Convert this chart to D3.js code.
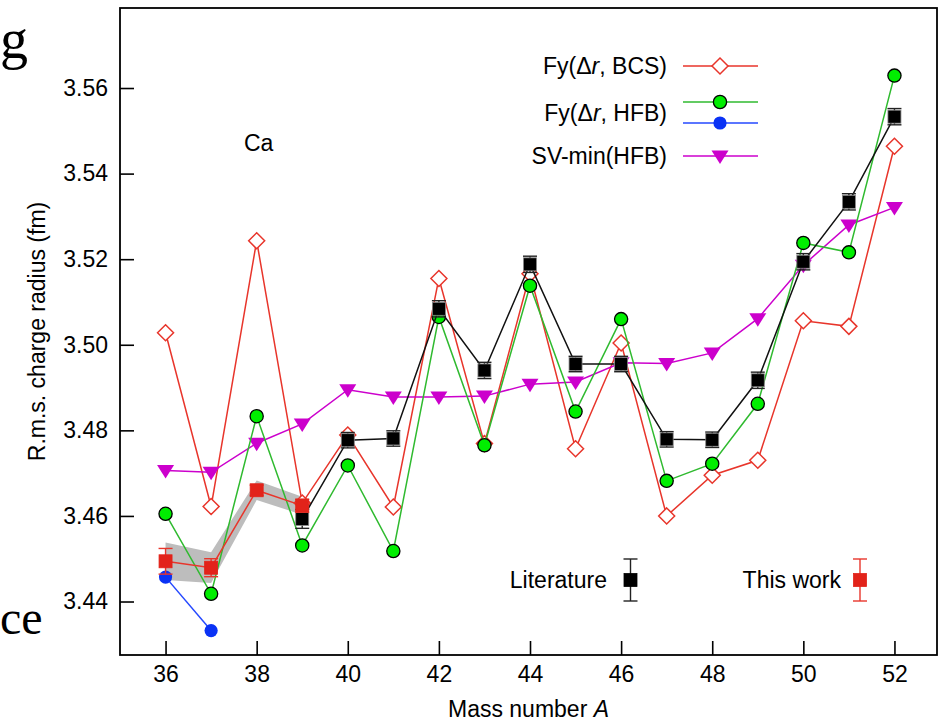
<!DOCTYPE html>
<html>
<head>
<meta charset="utf-8">
<script src="https://cdn.jsdelivr.net/npm/d3@7"></script>
<style>
  html, body { margin: 0; padding: 0; background: #fff; overflow: hidden; }
  svg { display: block; }
  text { font-family: "Liberation Sans", Arial, Helvetica, sans-serif; fill: #000; }
</style>
</head>
<body>
<svg id="chart" width="943" height="721"></svg>
<script>
// ---------------- data ----------------
const massNumbers = [36, 37, 38, 39, 40, 41, 42, 43, 44, 45, 46, 47, 48, 49, 50, 51, 52];
const fyBCS = [3.5028, 3.4622, 3.5243, 3.4630, 3.4789, 3.4621, 3.5155, 3.4769, 3.5166, 3.4757, 3.5004, 3.4600, 3.4695, 3.4730, 3.5056, 3.5043, 3.5464];
const fyHFB = [3.4605, 3.4418, 3.4833, 3.4531, 3.4718, 3.4518, 3.5065, 3.4765, 3.5138, 3.4844, 3.5060, 3.4682, 3.4722, 3.4862, 3.5238, 3.5216, 3.5629];
const fyHFBBlueA = [36, 37];
const fyHFBBlue = [3.4457, 3.4332];
const svMin = [3.4706, 3.4702, 3.4770, 3.4815, 3.4895, 3.4878, 3.4878, 3.4880, 3.4908, 3.4913, 3.4958, 3.4956, 3.4981, 3.5061, 3.5186, 3.5280, 3.5321];
const litA = [39, 40, 41, 42, 43, 44, 45, 46, 47, 48, 49, 50, 51, 52];
const literature = [3.4593, 3.4777, 3.4781, 3.5084, 3.4940, 3.5188, 3.4955, 3.4955, 3.4779, 3.4778, 3.4917, 3.5194, 3.5334, 3.5533];
const literatureErr = [0.0022, 0.0018, 0.0018, 0.0019, 0.0019, 0.0019, 0.0018, 0.0018, 0.0018, 0.0018, 0.0019, 0.0019, 0.0019, 0.0019];
const thisA = [36, 37, 38, 39];
const thisWork = [3.4494, 3.4479, 3.4660, 3.4624];
const thisWorkErr = [0.0030, 0.0021, 0.0012, 0.0015];
const bandHalfWidth = [0.0044, 0.0036, 0.0023, 0.0021];
const xTicks = [36, 38, 40, 42, 44, 46, 48, 50, 52];
const yTicks = [3.44, 3.46, 3.48, 3.50, 3.52, 3.54, 3.56];
const legendLabels = ["Fy(\u0394r, BCS)", "Fy(\u0394r, HFB)", "SV-min(HFB)"];
const bottomLegend = ["Literature", "This work"];

// ---------------- layout ----------------
const svg = d3.select("#chart");
const L = 120, R = 937, T = 8, B = 655;
const x = d3.scaleLinear().domain([35, 52.934]).range([L, R]);
const y = d3.scaleLinear().domain([3.4275, 3.5787]).range([B, T]);

const C = {
  red: "#e8352b", redFill: "#e2231a", green: "#2fba2f", greenFill: "#00ee00",
  blue: "#2448ff", blueFill: "#0a32f5", purple: "#cc00cc", band: "#bdbdbd"
};

// stray serif text fragments from surrounding page
svg.append("text").attr("x", 0).attr("y", 58)
  .style("font-family", "'Liberation Serif', 'DejaVu Serif', serif").style("font-size", "56px").text("g");
svg.append("text").attr("x", 0).attr("y", 634)
  .style("font-family", "'Liberation Serif', 'DejaVu Serif', serif").style("font-size", "48px").text("ce");

// axes
const fs = 23;
const gx = svg.append("g").attr("transform", `translate(0,${B})`)
  .call(d3.axisBottom(x).tickValues(xTicks).tickSize(-14).tickPadding(11).tickFormat(d3.format("d")));
const gy = svg.append("g").attr("transform", `translate(${L},0)`)
  .call(d3.axisLeft(y).tickValues(yTicks).tickSize(-14).tickPadding(12).tickFormat(d3.format(".2f")));
[gx, gy].forEach(g => {
  g.select(".domain").remove();
  g.selectAll(".tick line").attr("stroke", "#000").attr("stroke-width", 1.6);
  g.selectAll(".tick text").style("font-size", fs + "px").style("font-family", "'Liberation Sans', Arial, sans-serif").attr("fill", "#000");
});

// frame
svg.append("rect").attr("x", L).attr("y", T).attr("width", R - L).attr("height", B - T)
  .attr("fill", "none").attr("stroke", "#000").attr("stroke-width", 1.8);

// axis titles
const xt = svg.append("text").attr("x", (L + R) / 2).attr("y", 717).attr("text-anchor", "middle").style("font-size", fs + "px");
xt.append("tspan").text("Mass number ");
xt.append("tspan").style("font-style", "italic").text("A");
svg.append("text").attr("transform", `translate(45,${(T + B) / 2}) rotate(-90)`)
  .attr("text-anchor", "middle").style("font-size", fs + "px").text("R.m.s. charge radius (fm)");

svg.append("text").attr("x", 244).attr("y", 151).style("font-size", fs + "px").text("Ca");

// clip
svg.append("clipPath").attr("id", "plotclip").append("rect")
  .attr("x", L).attr("y", T).attr("width", R - L).attr("height", B - T);
const plot = svg.append("g").attr("clip-path", "url(#plotclip)");

// grey band
const bandData = thisA.map((a, i) => ({ a, v: thisWork[i], h: bandHalfWidth[i] }));
plot.append("path").datum(bandData)
  .attr("d", d3.area().x(d => x(d.a)).y0(d => y(d.v - d.h)).y1(d => y(d.v + d.h)))
  .attr("fill", C.band);

const line = d3.line().x(d => x(d.a)).y(d => y(d.v));
const pairs = (A, V) => A.map((a, i) => ({ a, v: V[i] }));

const bcsD = pairs(massNumbers, fyBCS);
const hfbD = pairs(massNumbers, fyHFB);
const blueD = pairs(fyHFBBlueA, fyHFBBlue);
const svD = pairs(massNumbers, svMin);
const litD = litA.map((a, i) => ({ a, v: literature[i], e: literatureErr[i] }));
const twD = thisA.map((a, i) => ({ a, v: thisWork[i], e: thisWorkErr[i] }));

// marker helpers
function diamond(g, cx, cy) {
  g.append("path").attr("d", `M${cx},${cy - 8}L${cx + 8},${cy}L${cx},${cy + 8}L${cx - 8},${cy}Z`)
    .attr("fill", "#fff").attr("stroke", C.red).attr("stroke-width", 1.5);
}
function circle(g, cx, cy, fill, stroke) {
  g.append("circle").attr("cx", cx).attr("cy", cy).attr("r", 6.6)
    .attr("fill", fill).attr("stroke", stroke).attr("stroke-width", stroke === "none" ? 0 : 1.3);
}
function tri(g, cx, cy) {
  g.append("path").attr("d", `M${cx - 8.5},${cy - 5.5}L${cx + 8.5},${cy - 5.5}L${cx},${cy + 8}Z`)
    .attr("fill", C.purple);
}
function square(g, cx, cy, fill, halo) {
  g.append("rect").attr("x", cx - 6.5).attr("y", cy - 6.5).attr("width", 13).attr("height", 13)
    .attr("fill", fill).attr("stroke", halo).attr("stroke-width", 0.8);
}
function errbar(g, cx, cyTop, cyBot, color) {
  g.append("line").attr("x1", cx).attr("x2", cx).attr("y1", cyTop).attr("y2", cyBot).attr("stroke", color).attr("stroke-width", 1.4);
  [cyTop, cyBot].forEach(yy => g.append("line").attr("x1", cx - 7).attr("x2", cx + 7).attr("y1", yy).attr("y2", yy)
    .attr("stroke", color).attr("stroke-width", 1.4));
}

// BCS
plot.append("path").datum(bcsD).attr("d", line).attr("fill", "none").attr("stroke", C.red).attr("stroke-width", 1.5);
const gBCS = plot.append("g");
bcsD.forEach(d => diamond(gBCS, x(d.a), y(d.v)));

// SV-min
plot.append("path").datum(svD).attr("d", line).attr("fill", "none").attr("stroke", C.purple).attr("stroke-width", 1.5);
const gSV = plot.append("g");
svD.forEach(d => tri(gSV, x(d.a), y(d.v)));

// HFB green
plot.append("path").datum(hfbD).attr("d", line).attr("fill", "none").attr("stroke", C.green).attr("stroke-width", 1.5);
const gH = plot.append("g");
hfbD.forEach(d => circle(gH, x(d.a), y(d.v), C.greenFill, "#000"));

// HFB blue
plot.append("path").datum(blueD).attr("d", line).attr("fill", "none").attr("stroke", C.blue).attr("stroke-width", 1.5);
const gB = plot.append("g");
blueD.forEach(d => circle(gB, x(d.a), y(d.v), C.blueFill, "none"));

// Literature
plot.append("path").datum(litD).attr("d", line).attr("fill", "none").attr("stroke", "#111").attr("stroke-width", 1.5);
const gL = plot.append("g");
litD.forEach(d => { errbar(gL, x(d.a), y(d.v + d.e), y(d.v - d.e), "#222"); square(gL, x(d.a), y(d.v), "#000", "#888"); });

// This work
plot.append("path").datum(twD).attr("d", line).attr("fill", "none").attr("stroke", C.red).attr("stroke-width", 1.5);
const gT = plot.append("g");
twD.forEach(d => { errbar(gT, x(d.a), y(d.v + d.e), y(d.v - d.e), C.red); square(gT, x(d.a), y(d.v), C.redFill, C.redFill); });

// ---------------- legends ----------------
const lg = svg.append("g");
const lx1 = 683, lx2 = 758, lm = 720, tx = 667;
function legLine(yy, color) {
  lg.append("line").attr("x1", lx1).attr("x2", lx2).attr("y1", yy).attr("y2", yy).attr("stroke", color).attr("stroke-width", 1.5);
}
function legText(yy, label) {
  const t = lg.append("text").attr("x", tx).attr("y", yy).attr("text-anchor", "end").attr("dy", "0.36em").style("font-size", fs + "px");
  const m = label.match(/^(.*\u0394)(r)(.*)$/);
  if (m) {
    t.append("tspan").text(m[1]);
    t.append("tspan").style("font-style", "italic").text(m[2]);
    t.append("tspan").text(m[3]);
  } else t.text(label);
}
legText(66, legendLabels[0]); legLine(66, C.red); diamond(lg, lm, 66);
legText(113, legendLabels[1]);
legLine(102, C.green); circle(lg, lm, 102, C.greenFill, "#000");
legLine(123, C.blue); circle(lg, lm, 123, C.blueFill, "none");
legText(156, legendLabels[2]); legLine(156, C.purple); tri(lg, lm, 156);

// bottom legend
const by = 580;
lg.append("text").attr("x", 607).attr("y", by).attr("dy", "0.36em").attr("text-anchor", "end").style("font-size", fs + "px").text(bottomLegend[0]);
errbar(lg, 630.5, 559, 601, "#222"); square(lg, 630.5, by, "#000", "#000");
lg.append("text").attr("x", 841).attr("y", by).attr("dy", "0.36em").attr("text-anchor", "end").style("font-size", fs + "px").text(bottomLegend[1]);
errbar(lg, 860, 559, 601, C.red); square(lg, 860, by, C.redFill, C.redFill);
</script>
</body>
</html>
